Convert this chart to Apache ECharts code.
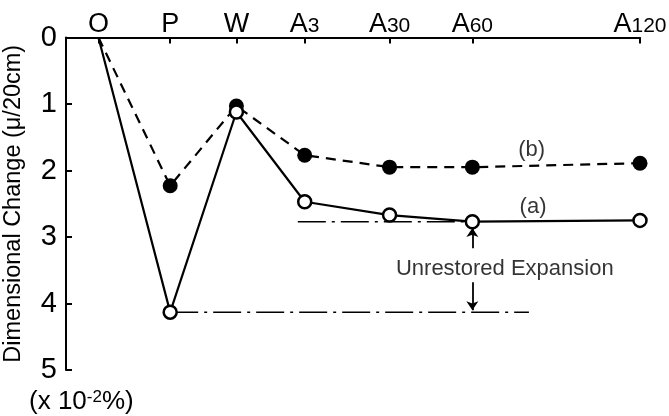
<!DOCTYPE html>
<html>
<head>
<meta charset="utf-8">
<script src="https://cdn.jsdelivr.net/npm/echarts@6/dist/echarts.min.js"></script>
<style>
  html, body { margin: 0; padding: 0; background: #fff; }
  #chart { width: 669px; height: 416px; }
</style>
</head>
<body>
<div id="chart"></div>
<script>
// Treatment stages along the top axis and their positions on the time scale
const categories = ['O', 'P', 'W', 'A3', 'A30', 'A60', 'A120'];
const xPos = [0, 1.04, 2.0, 2.99, 4.22, 5.42, 7.85];

// Dimensional change (x10^-2 %), curve (a) open circles, curve (b) filled circles
const seriesA = [0, 4.13, 1.12, 2.47, 2.67, 2.77, 2.75];
const seriesB = [0, 2.23, 1.03, 1.77, 1.95, 1.95, 1.89];

// Y axis tick values
const yTicks = [0, 1, 2, 3, 4, 5];

// Reference levels for the unrestored expansion
const upperGuide = { from: 2.89, to: 5.31, level: seriesA[5] };
const lowerGuide = { from: xPos[1], to: 6.24, level: seriesA[1] };
const upperArrow = { x: xPos[5], from: 3.17, to: 2.865 };
const lowerArrow = { x: xPos[5], from: 3.68, to: 4.10 };

// Text annotations [x, y, text]
const notes = [
  [6.28, 1.69, '(b)'],
  [6.30, 2.55, '(a)'],
  [5.89, 3.48, 'Unrestored Expansion']
];

const FONT = 'Liberation Sans';

function pts(values) {
  return values.map((v, i) => {
    const item = { value: [xPos[i], v] };
    if (i === 0) item.symbol = 'none';
    return item;
  });
}

function catLabel(v) {
  let idx = 0, best = Infinity;
  xPos.forEach((p, i) => { const d = Math.abs(p - v); if (d < best) { best = d; idx = i; } });
  const c = categories[idx];
  if (c.length > 1) return '{L|' + c[0] + '}{d|' + c.slice(1) + '}';
  return '{L|' + c + '}';
}

const chart = echarts.init(document.getElementById('chart'), null, { renderer: 'canvas' });

chart.setOption({
  backgroundColor: '#ffffff',
  animation: false,
  grid: { left: 66, right: 29, top: 37.5, bottom: 46, containLabel: false, outerBoundsMode: 'none' },
  xAxis: {
    type: 'value',
    position: 'top',
    min: -0.47,
    max: 7.85,
    axisLine: { show: true, onZero: false, lineStyle: { color: '#000', width: 2 } },
    axisTick: { show: true, inside: true, length: 6, customValues: xPos, lineStyle: { color: '#000', width: 2 } },
    axisLabel: {
      show: true,
      customValues: xPos,
      margin: -1,
      formatter: catLabel,
      rich: {
        L: { fontFamily: FONT, fontSize: 27, color: '#000', verticalAlign: 'bottom', lineHeight: 27 },
        d: { fontFamily: FONT, fontSize: 21, color: '#000', verticalAlign: 'bottom', lineHeight: 21, padding: [0, 0, 2, 0] }
      }
    },
    splitLine: { show: false }
  },
  yAxis: {
    type: 'value',
    inverse: true,
    min: 0,
    max: 5,
    interval: 1,
    name: 'Dimensional Change (μ/20cm)',
    nameLocation: 'middle',
    nameRotate: 90,
    nameGap: 40,
    nameMoveOverlap: false,
    nameTextStyle: { fontFamily: FONT, fontSize: 23.5, color: '#000' },
    axisLine: { show: true, onZero: false, lineStyle: { color: '#000', width: 2 } },
    axisTick: { show: true, inside: true, length: 6, lineStyle: { color: '#000', width: 2 } },
    axisLabel: {
      show: true,
      margin: 9,
      fontFamily: FONT,
      fontSize: 29,
      color: '#000',
      formatter: v => (yTicks.indexOf(v) >= 0 ? String(v) : '')
    },
    splitLine: { show: false }
  },
  graphic: [
    {
      type: 'text',
      left: 29,
      top: 389,
      style: {
        text: '{t|(x 10}{s|-2}{t|%)}',
        rich: {
          t: { fontFamily: FONT, fontSize: 26, fill: '#000', verticalAlign: 'bottom' },
          s: { fontFamily: FONT, fontSize: 17, fill: '#000', verticalAlign: 'top' }
        }
      }
    }
  ],
  series: [
    {
      name: 'guide-upper',
      type: 'line',
      silent: true,
      symbol: 'none',
      z: 1,
      lineStyle: { color: '#000', width: 1.5, type: [28, 6, 3, 6] },
      data: [[upperGuide.from, upperGuide.level], [upperGuide.to, upperGuide.level]]
    },
    {
      name: 'guide-lower',
      type: 'line',
      silent: true,
      symbol: 'none',
      z: 1,
      lineStyle: { color: '#000', width: 1.5, type: [28, 6, 3, 6] },
      data: [[lowerGuide.from, lowerGuide.level], [lowerGuide.to, lowerGuide.level]]
    },
    {
      name: 'arrows',
      type: 'lines',
      coordinateSystem: 'cartesian2d',
      silent: true,
      z: 2,
      symbol: ['none', 'arrow'],
      symbolSize: 9,
      lineStyle: { color: '#000', width: 1.8, opacity: 1, curveness: 0 },
      data: [
        { coords: [[upperArrow.x, upperArrow.from], [upperArrow.x, upperArrow.to]] },
        { coords: [[lowerArrow.x, lowerArrow.from], [lowerArrow.x, lowerArrow.to]] }
      ]
    },
    {
      name: '(b)',
      type: 'line',
      z: 3,
      symbol: 'circle',
      symbolSize: 15,
      showAllSymbol: true,
      lineStyle: { color: '#000', width: 2.2, type: [10, 7] },
      itemStyle: { color: '#000', borderColor: '#000', borderWidth: 0 },
      data: pts(seriesB)
    },
    {
      name: '(a)',
      type: 'line',
      z: 4,
      symbol: 'circle',
      symbolSize: 13,
      showAllSymbol: true,
      lineStyle: { color: '#000', width: 2.2 },
      itemStyle: { color: '#fff', borderColor: '#000', borderWidth: 2.5 },
      data: pts(seriesA)
    },
    {
      name: 'notes',
      type: 'scatter',
      silent: true,
      z: 5,
      symbolSize: 1,
      itemStyle: { color: 'rgba(0,0,0,0)' },
      label: {
        show: true,
        position: 'inside',
        fontFamily: FONT,
        fontSize: 22,
        color: '#000',
        formatter: p => p.data[2]
      },
      data: notes
    }
  ]
});
</script>
</body>
</html>
